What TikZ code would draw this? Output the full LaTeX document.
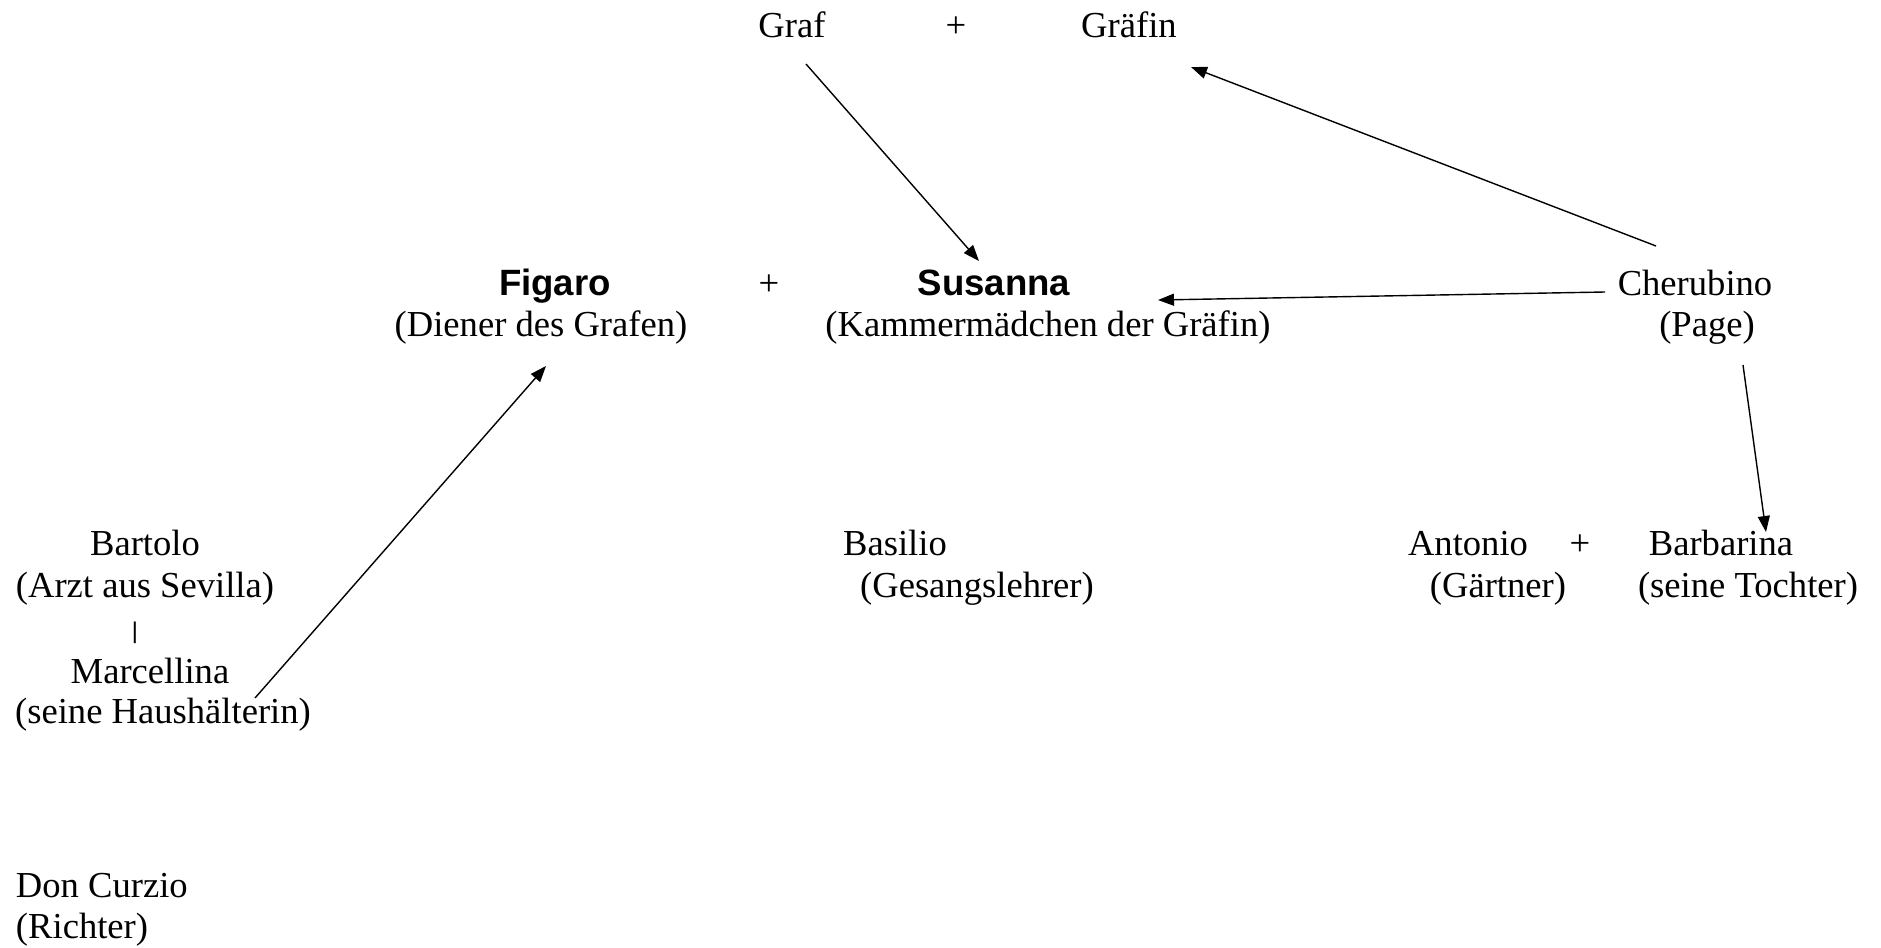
\documentclass[tikz,border=0pt]{standalone}
\usepackage{fontspec}
\usepackage{graphicx}
\setmainfont{Liberation Serif}
\newfontfamily\bsans{Liberation Sans}
\usetikzlibrary{arrows.meta}
\begin{document}
\begin{tikzpicture}[x=0.5pt,y=-0.5pt,
  every node/.style={inner sep=0pt,outer sep=0pt,anchor=base,font=\fontsize{18.3}{20.5}\selectfont},
  lbl/.style={},
  bold/.style={font=\fontsize{18.3}{20.5}\selectfont\bsans\bfseries},
  arr/.style={line width=0.7pt,-{Triangle[length=8pt,width=6pt]}}]
\useasboundingbox (0,0) rectangle (1881,948);
% row 1
\node[lbl] (graf) at (792,37) {Graf};
\node[lbl] (plus1) at (956,37) {+};
\node[lbl] (grafin) at (1129,37) {Gräfin};
% row 2
\node[bold] (figaro) at (555,295) {Figaro};
\node[lbl] (plus2) at (769,295) {+};
\node[bold] (susanna) at (994,295) {Susanna};
\node[lbl] (figaroR) at (541,336) {(Diener des Grafen)};
\node[lbl] (susannaR) at (1048,336) {(Kammermädchen der Gräfin)};
\node[lbl] (cher) at (1695,295) {Cherubino};
\node[lbl] (cherR) at (1707,336) {(Page)};
% row 3
\node[lbl] (bartolo) at (145,555) {Bartolo};
\node[lbl] (bartoloR) at (145,597) {(Arzt aus Sevilla)};
\node[lbl,anchor=center] (bar) at (135,633) {\scalebox{1.1}[0.65]{|}};
\node[lbl] (marcellina) at (150,683) {Marcellina};
\node[lbl] (marcellinaR) at (163,723) {(seine Haushälterin)};
\node[lbl] (basilio) at (895,555) {Basilio};
\node[lbl] (basilioR) at (977,597) {(Gesangslehrer)};
\node[lbl] (antonio) at (1468,555) {Antonio};
\node[lbl] (plus3) at (1580,555) {+};
\node[lbl] (barbarina) at (1721,555) {Barbarina};
\node[lbl] (antonioR) at (1498,597) {(Gärtner)};
\node[lbl] (barbarinaR) at (1748,597) {(seine Tochter)};
% row 4
\node[lbl,anchor=base west] (curzio) at (16,897) {Don Curzio};
\node[lbl,anchor=base west] (curzioR) at (16,938) {(Richter)};
% arrows
\draw[arr] ([shift={(14,27)}]graf.base) -- ([shift={(-15,-34)}]susanna.base);
\draw[arr] ([shift={(-39,-49)}]cher.base) -- ([shift={(62,30)}]grafin.base);
\draw[arr] ([shift={(-90,-3)}]cher.base) -- ([shift={(164,5)}]susanna.base);
\draw[arr] ([shift={(36,29)}]cherR.base) -- ([shift={(45,-23)}]barbarina.base);
\draw[arr] ([shift={(105,15)}]marcellina.base) -- ([shift={(5,30)}]figaroR.base);
\end{tikzpicture}
\end{document}
